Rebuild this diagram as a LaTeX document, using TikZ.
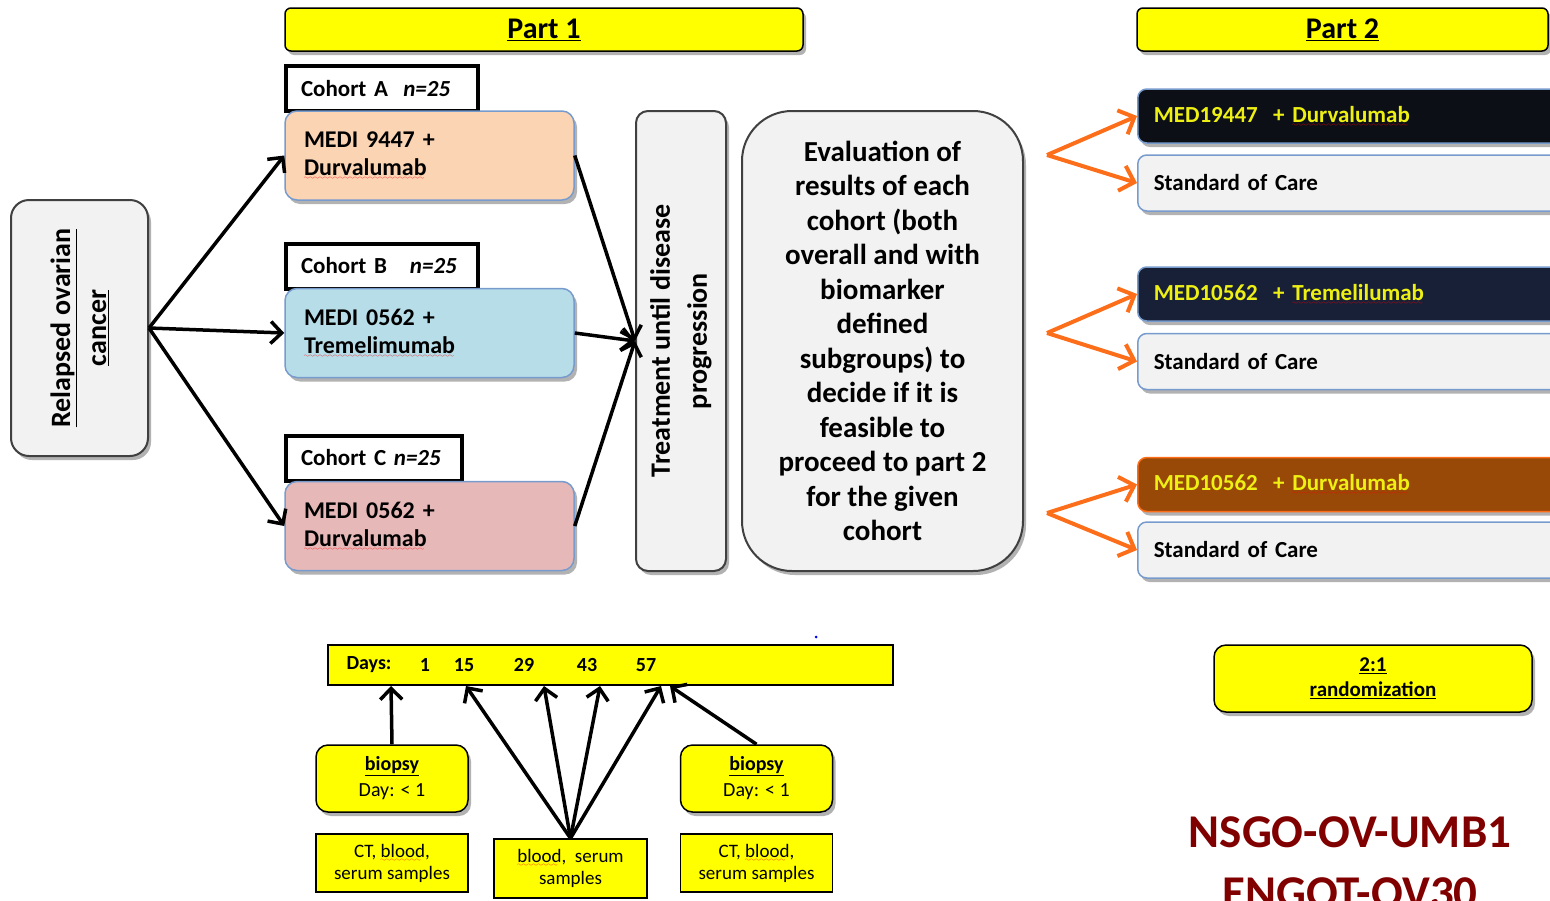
\documentclass[tikz,border=0pt]{standalone}
\usepackage{fontspec}
\setmainfont{Carlito}
\usetikzlibrary{arrows.meta,shadows,positioning,calc}
\font\sixly=lasy6
\newcommand\redwave[1]{\leavevmode\setbox0\hbox{#1}\rlap{\color{red}\lower4pt\hbox to\wd0{\leaders\hbox{\sixly\char58}\hfil}}\box0}% spell-check squiggle
\definecolor{myyellow}{RGB}{255,255,0}
\definecolor{mypeach}{RGB}{251,212,180}
\definecolor{mylightblue}{RGB}{183,221,232}
\definecolor{mypink}{RGB}{230,185,184}
\definecolor{myborder}{RGB}{120,155,205}
\definecolor{mygray}{RGB}{242,242,242}
\definecolor{mydarkgray}{RGB}{64,64,64}
\definecolor{myblack}{RGB}{12,15,22}
\definecolor{mynavy}{RGB}{23,32,55}
\definecolor{mybrown}{RGB}{152,72,7}
\definecolor{myorange}{RGB}{252,110,25}
\definecolor{mytextyellow}{RGB}{238,240,20}
\definecolor{mymaroon}{RGB}{128,0,0}

\begin{document}
\begin{tikzpicture}
    [x=1pt,y=-1pt,
     shade/.style={drop shadow={shadow xshift=3pt,shadow yshift=-4pt,opacity=0.3,fill=black}},
     yellowbar/.style={draw=black,line width=1.5pt,fill=myyellow,rounded corners=6pt,shade,
        font=\fontsize{30}{34}\selectfont\bfseries},
     graybox/.style={draw=mydarkgray,line width=2pt,fill=mygray,shade},
     cohortlab/.style={draw=black,line width=4pt,fill=white,anchor=west,minimum height=45pt,
        inner xsep=15pt,align=left,font=\fontsize{23}{28}\selectfont\bfseries},
     drugbox/.style={draw=myborder,line width=1.5pt,rounded corners=12pt,shade,
        minimum width=289pt,minimum height=89pt,text width=251pt,inner xsep=19pt,align=left,
        font=\fontsize{24}{28}\selectfont\bfseries},
     armbox/.style={draw=myborder,line width=1.5pt,rounded corners=9pt,shade,anchor=west,
        minimum width=423pt,minimum height=54pt,text width=391pt,inner xsep=16pt,align=left,
        text=mytextyellow,font=\fontsize{23}{27}\selectfont\bfseries},
     socbox/.style={armbox,fill=mygray,text=black,minimum height=56pt},
     samplebox/.style={draw=black,line width=1.5pt,fill=myyellow,minimum width=152pt,
        minimum height=58pt,align=center,font=\fontsize{19}{22}\selectfont},
     biopsybox/.style={draw=black,line width=1.5pt,fill=myyellow,rounded corners=12pt,shade,
        minimum width=152pt,minimum height=67pt,align=center,font=\fontsize{20}{26}\selectfont},
     daytxt/.style={font=\fontsize{20}{24}\selectfont\bfseries},
     blackarrow/.style={line width=3.5pt,-{Straight Barb[length=11pt,width=22pt]}},
     orangearrow/.style={myorange,line width=4pt,-{Straight Barb[length=13pt,width=26pt]}},
     studytitle/.style={mymaroon,anchor=base,font=\fontsize{47}{52}\selectfont\bfseries}]

    % headers
    \node[yellowbar,minimum width=518pt,minimum height=43pt] (part1) at (544,29.5) {\underline{Part 1}};
    \node[yellowbar,minimum width=411pt,minimum height=43pt] (part2) at (1342.5,29.5) {\underline{Part 2}};

    % part 1
    \node[graybox,rounded corners=18pt,minimum width=137pt,minimum height=256pt] (relapsed) at (79.5,328) {};
    \node[rotate=90,align=center,font=\fontsize{28}{36}\selectfont\bfseries] (relapsedtxt) at (relapsed.center)
        {\underline{Relapsed ovarian}\\\underline{cancer}};

    \node[cohortlab,text width=162pt] (labA) at (284,88.5) {\mbox{Cohort A\ \ \textit{n=25}}};
    \node[drugbox,fill=mypeach] (drugA) at (429.5,155.5) {MEDI 9447 +\\\redwave{Durvalumab}};
    \node[cohortlab,text width=162pt] (labB) at (284,266) {\mbox{Cohort B\ \ \ \textit{n=25}}};
    \node[drugbox,fill=mylightblue] (drugB) at (429.5,333) {MEDI 0562 +\\\redwave{Tremelimumab}};
    \node[cohortlab,text width=146pt] (labC) at (284,458) {\mbox{Cohort C \textit{n=25}}};
    \node[drugbox,fill=mypink] (drugC) at (429.5,526) {MEDI 0562 +\\\redwave{Durvalumab}};

    \node[graybox,rounded corners=12pt,minimum width=90pt,minimum height=460pt] (treat) at (681,341) {};
    \node[rotate=90,align=center,font=\fontsize{28}{37}\selectfont\bfseries] (treattxt) at (treat.center)
        {Treatment until disease\\progression};

    \node[graybox,rounded corners=50pt,minimum width=281pt,minimum height=460pt,align=center,
        font=\fontsize{29}{34.5}\selectfont\bfseries] (eval) at (882.5,341)
        {Evaluation of\\results of each\\cohort (both\\overall and with\\biomarker\\defined\\
         subgroups) to\\decide if it is\\feasible to\\proceed to part 2\\for the given\\cohort};

    \foreach \d in {drugA,drugB,drugC}{
        \draw[blackarrow] (relapsed.east) -- (\d.west);
        \draw[blackarrow] (\d.east) -- (treat.west);
    }

    % part 2
    \node[armbox,fill=myblack] (armA) at (1137,116) {MED19447\ \ + \redwave{Durvalumab}};
    \node[socbox] (socA) at (1137,183) {Standard of Care};
    \node[armbox,fill=mynavy] (armB) at (1137,294) {MED10562\ \ + \redwave{Tremelilumab}};
    \node[socbox] (socB) at (1137,361.5) {Standard of Care};
    \node[armbox,draw=myorange,fill=mybrown] (armC) at (1137,484.5) {MED10562\ \ + \redwave{Durvalumab}};
    \node[socbox] (socC) at (1137,550) {Standard of Care};

    \coordinate (forkA) at (1047,155);
    \coordinate (forkB) at (1047,333);
    \coordinate (forkC) at (1047,513);
    \foreach \r in {A,B,C}{
        \draw[orangearrow] (fork\r) -- (arm\r.west);
        \draw[orangearrow] (fork\r) -- (soc\r.west);
    }

    % sampling days
    \node[draw=black,line width=1.5pt,fill=myyellow,minimum width=565pt,minimum height=40pt] (days) at (610.5,665) {};
    \node[daytxt,anchor=west] (dayslab) at (343,665) {Days:};
    \foreach \d/\x in {1/425,15/464,29/524,43/587,57/646}
        \node[daytxt] (day\d) at (\x,665) {\d};
    \fill[blue] (816,637) circle (1.5pt);

    \foreach \n/\x in {1/391,2/466,3/544,4/600,5/661,6/670}
        \coordinate (t\n) at (\x,686);

    \node[biopsybox] (biopsyA) at (392,778.5) {\textbf{\underline{biopsy}}\\Day: < 1};
    \node[biopsybox] (biopsyB) at (756.5,778.5) {\textbf{\underline{biopsy}}\\Day: < 1};
    \node[samplebox] (ctA) at (392,863) {CT, \redwave{blood},\\serum samples};
    \node[samplebox,minimum width=153pt,minimum height=59pt] (blood) at (570.5,868.5) {\redwave{blood}, \ serum\\samples};
    \node[samplebox] (ctB) at (756.5,863) {CT, \redwave{blood},\\serum samples};

    \draw[blackarrow] (biopsyA.north) -- (t1);
    \foreach \n in {2,3,4,5}
        \draw[blackarrow] (blood.north) -- (t\n);
    \draw[blackarrow] (biopsyB.north) -- (t6);

    % randomization and study name
    \node[biopsybox,minimum width=318pt,font=\fontsize{21}{25}\selectfont\bfseries] (rand) at (1373,678.5)
        {\underline{2:1}\\\underline{randomization}};
    \node[studytitle] (studyA) at (1350,847) {NSGO-OV-UMB1};
    \node[studytitle] (studyB) at (1350,908) {ENGOT-OV30};

    \pgfresetboundingbox
    \useasboundingbox (0,0) rectangle (1550,900);
\end{tikzpicture}
\end{document}
